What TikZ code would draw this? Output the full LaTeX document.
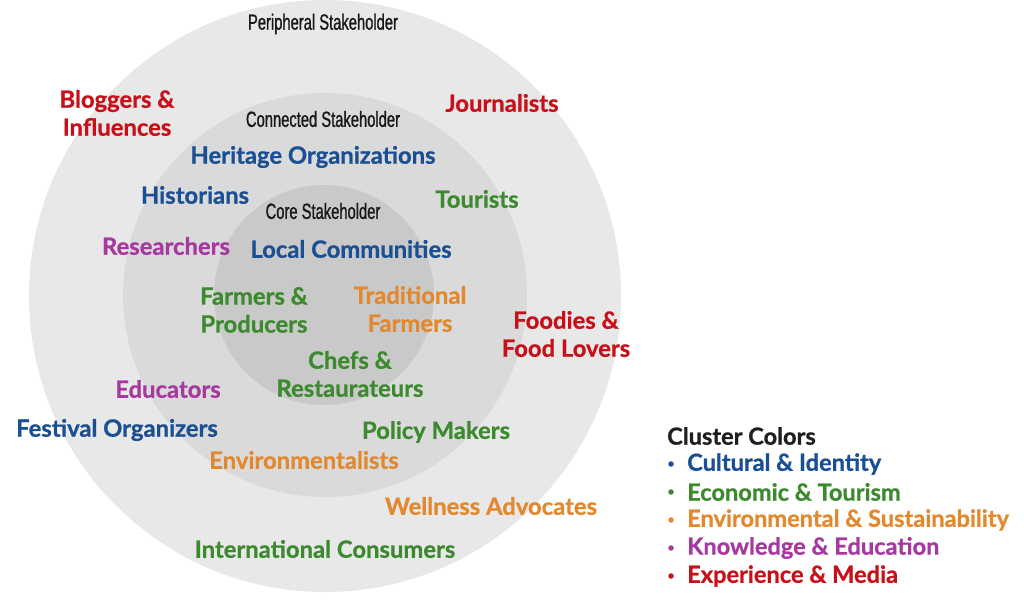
\documentclass[tikz,border=0pt]{standalone}
\usepackage{fontspec}
\setmainfont{Lato}
\newfontfamily\labfont[BoldFeatures={FakeBold=0.8}]{Lato}
\newfontfamily\condfont[FakeStretch=0.67,FakeBold=1.0]{Liberation Sans}
\definecolor{cblue}{HTML}{1B4F93}
\definecolor{cgreen}{HTML}{3C8A2E}
\definecolor{corange}{HTML}{E2892F}
\definecolor{cpurple}{HTML}{A6389F}
\definecolor{cred}{HTML}{C8101A}
\definecolor{ring1}{HTML}{E8E8E8}
\definecolor{ring2}{HTML}{DADADA}
\definecolor{ring3}{HTML}{C9C9C9}
\begin{document}
\begin{tikzpicture}[x=1pt,y=-1pt,
  lab/.style={font=\labfont\bfseries\fontsize{23.8}{28}\selectfont, align=center, inner sep=0pt},
  ttl/.style={font=\condfont\fontsize{22}{24}\selectfont, text=black!90, inner sep=0pt},
  leg/.style={font=\labfont\bfseries\fontsize{23.6}{28}\selectfont, anchor=west, inner sep=0pt},
  dot/.style={circle, inner sep=0pt, minimum size=5.5pt}]
\useasboundingbox (0,0) rectangle (1024,604);
\fill[white] (0,0) rectangle (1024,604);
\fill[ring1] (325,296) circle (296);
\fill[ring2] (325,295) circle (202);
\fill[ring3] (324,295) circle (110);
% titles
\node[ttl] (per) at (323,24) {Peripheral Stakeholder};
\node[ttl] (con) at (323,119) {Connected Stakeholder};
\node[ttl] (cor) at (323,211) {Core Stakeholder};
% labels
\node[lab,text=cred] (blog) at (117,113) {Bloggers \&\\Influences};
\node[lab,text=cred] (jour) at (502,103) {Journalists};
\node[lab,text=cblue] (heri) at (313,157) {Heritage Organizations};
\node[lab,text=cblue] (hist) at (195,195) {Historians};
\node[lab,text=cgreen] (tour) at (477,199) {Tourists};
\node[lab,text=cpurple] (rese) at (166,246) {Researchers};
\node[lab,text=cblue] (loca) at (351,249) {Local Communities};
\node[lab,text=cgreen] (farm) at (254,310) {Farmers \&\\Producers};
\node[lab,text=corange] (trad) at (410,309) {Traditional\\Farmers};
\node[lab,text=cred] (food) at (566,334) {Foodies \&\\Food Lovers};
\node[lab,text=cgreen] (chef) at (350,374) {Chefs \&\\Restaurateurs};
\node[lab,text=cpurple] (educ) at (168,389) {Educators};
\node[lab,text=cblue] (fest) at (117,430) {Festival Organizers};
\node[lab,text=cgreen] (poli) at (436,432) {Policy Makers};
\node[lab,text=corange] (envi) at (304,460) {Environmentalists};
\node[lab,text=corange] (well) at (491,506) {Wellness Advocates};
\node[lab,text=cgreen] (intl) at (325,549) {International Consumers};
% legend
\node[leg,text=black!88] (lt) at (667,436) {Cluster Colors};
\node[leg,text=cblue] (l1) at (687,464) {Cultural \& Identity};
\node[leg,text=cgreen] (l2) at (687,492) {Economic \& Tourism};
\node[leg,text=corange] (l3) at (687,520) {Environmental \& Sustainability};
\node[leg,text=cpurple] (l4) at (687,548) {Knowledge \& Education};
\node[leg,text=cred] (l5) at (687,576) {Experience \& Media};
\node[dot,fill=cblue] (d1) at (671,464) {};
\node[dot,fill=cgreen] (d2) at (671,492) {};
\node[dot,fill=corange] (d3) at (671,520) {};
\node[dot,fill=cpurple] (d4) at (671,548) {};
\node[dot,fill=cred] (d5) at (671,576) {};
\end{tikzpicture}
\end{document}
